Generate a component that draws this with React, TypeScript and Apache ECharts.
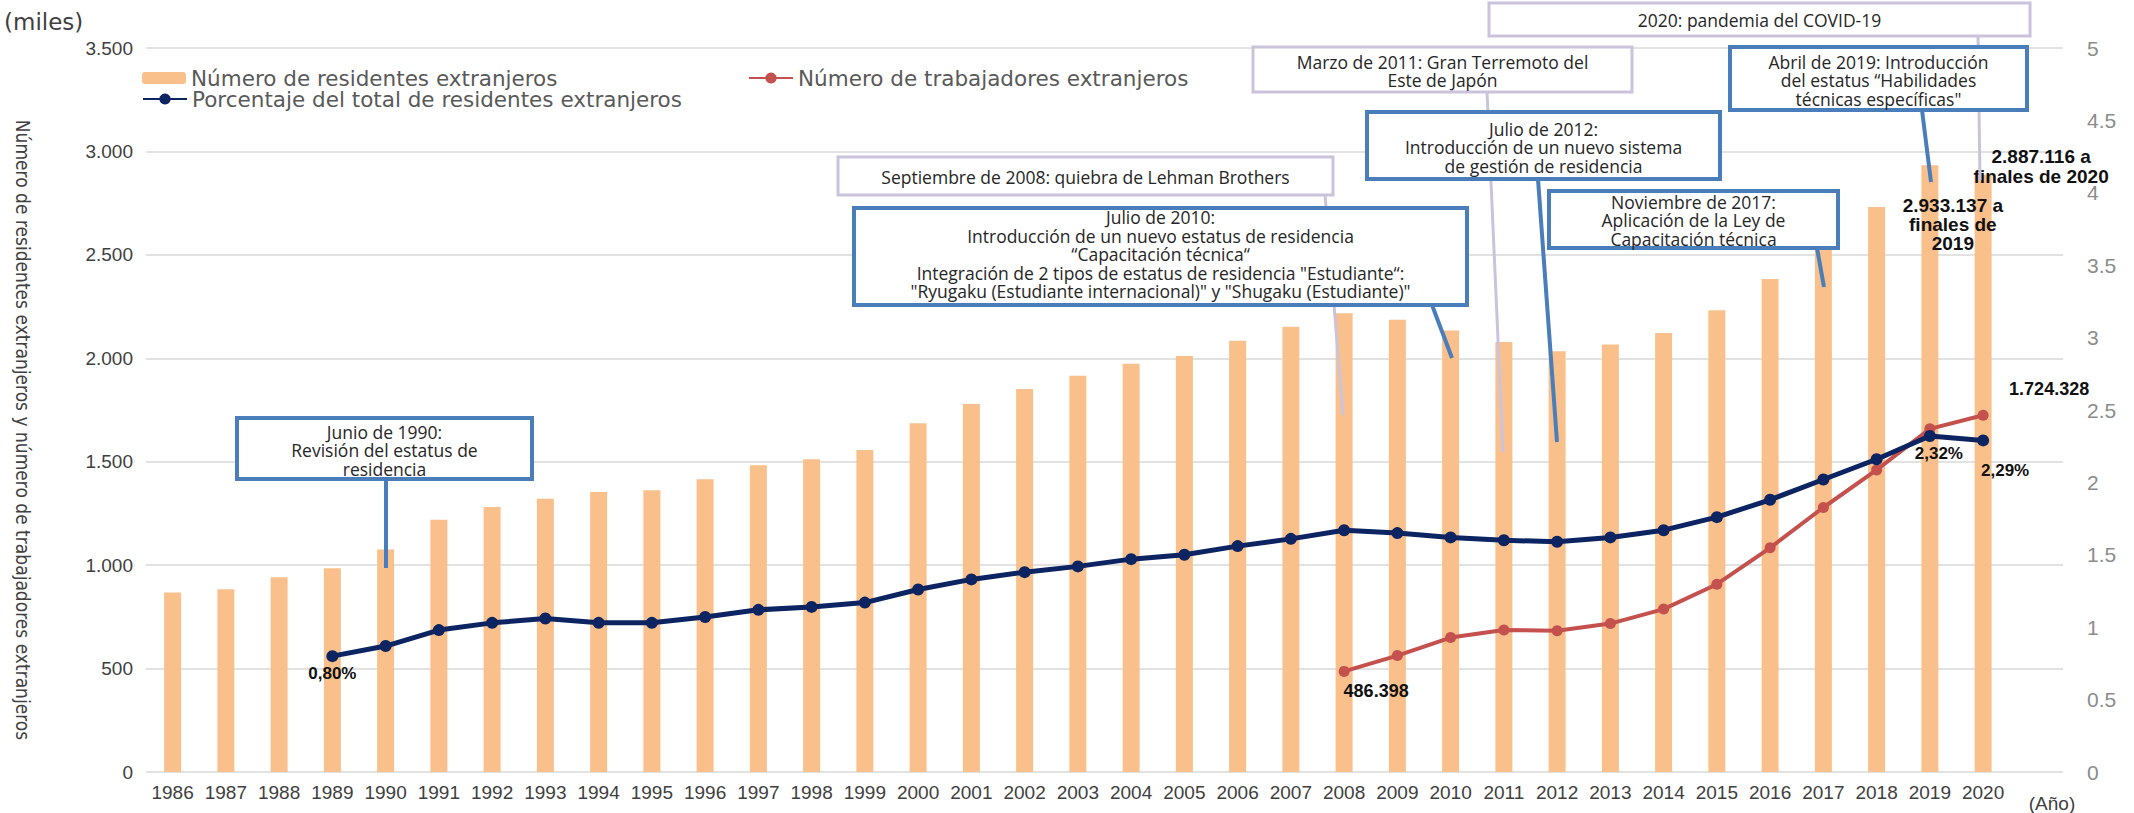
import React, { useEffect, useRef } from "react";
import * as echarts from "echarts";

// ---------------- DATA ----------------
const years = [
  1986, 1987, 1988, 1989, 1990, 1991, 1992, 1993, 1994, 1995, 1996, 1997,
  1998, 1999, 2000, 2001, 2002, 2003, 2004, 2005, 2006, 2007, 2008, 2009,
  2010, 2011, 2012, 2013, 2014, 2015, 2016, 2017, 2018, 2019, 2020,
];
// Número de residentes extranjeros (personas)
const residents = [
  867237, 884025, 941005, 984455, 1075317, 1218891, 1281644, 1320748, 1354011,
  1362371, 1415136, 1482707, 1512116, 1556113, 1686444, 1778462, 1851758,
  1915030, 1973747, 2011555, 2084919, 2152973, 2217426, 2186121, 2134151,
  2078508, 2033656, 2066445, 2121831, 2232189, 2382822, 2561848, 2731093,
  2933137, 2887116,
];
// Porcentaje del total (%), 1989-2020
const percentYears = years.slice(3);
const percent = [
  0.8, 0.87, 0.98, 1.03, 1.06, 1.03, 1.03, 1.07, 1.12, 1.14, 1.17, 1.26, 1.33,
  1.38, 1.42, 1.47, 1.5, 1.56, 1.61, 1.67, 1.65, 1.62, 1.6, 1.59, 1.62, 1.67,
  1.76, 1.88, 2.02, 2.16, 2.32, 2.29,
];
// Número de trabajadores extranjeros (personas), 2008-2020
const workerYears = years.slice(22);
const workers = [
  486398, 562818, 649982, 686246, 682450, 717504, 787627, 907896, 1083769,
  1278670, 1460463, 1658804, 1724328,
];

const NAME_RES = "Número de residentes extranjeros";
const NAME_WORK = "Número de trabajadores extranjeros";
const NAME_PCT = "Porcentaje del total de residentes extranjeros";
const Y_TITLE =
  "Número de residentes extranjeros y número de trabajadores extranjeros";

// Annotation callouts (layout only)
const BLUE = "#4A7EBB";
const LAV = "#CBC2DC";
const annotations = [
  { lines: ["Junio de 1990:", "Revisión del estatus de", "residencia"], c: BLUE, box: [237, 418, 295, 61], cy: 450, link: [386, 479, 386, 568] },
  { lines: ["Septiembre de 2008: quiebra de Lehman Brothers"], c: LAV, box: [838, 157, 495, 38], cy: 177, link: [1325, 195, 1343, 415] },
  { lines: ["Julio de 2010:", "Introducción de un nuevo estatus de residencia", "“Capacitación técnica“", "Integración de 2 tipos de estatus de residencia \"Estudiante“:", "\"Ryugaku (Estudiante internacional)\" y \"Shugaku (Estudiante)\""], c: BLUE, box: [854, 208, 613, 97], cy: 254, link: [1432, 305, 1452, 358] },
  { lines: ["Marzo de 2011: Gran Terremoto del", "Este de Japón"], c: LAV, box: [1253, 47, 379, 45], cy: 71, link: [1487, 92, 1503, 452] },
  { lines: ["Julio de 2012:", "Introducción de un nuevo sistema", "de gestión de residencia"], c: BLUE, box: [1367, 112, 353, 67], cy: 147, link: [1538, 179, 1557, 442] },
  { lines: ["Noviembre de 2017:", "Aplicación de la Ley de", "Capacitación técnica"], c: BLUE, box: [1549, 191, 289, 57], cy: 220, link: [1817, 248, 1824, 287] },
  { lines: ["Abril de 2019: Introducción", "del estatus “Habilidades", "técnicas específicas\""], c: BLUE, box: [1730, 47, 297, 63], cy: 80, link: [1922, 110, 1931, 182] },
  { lines: ["2020: pandemia del COVID-19"], c: LAV, box: [1489, 3, 541, 33], cy: 20, link: [1978, 36, 1980, 180] },
];

// ---------------- HELPERS ----------------
function fmtThousands(n: number): string {
  return String(Math.round(n)).replace(/\B(?=(\d{3})+(?!\d))/g, ".");
}
function fmtPct(p: number): string {
  return p.toFixed(2).replace(".", ",") + "%";
}

const BAR_COLOR = "#F9C08B";
const NAVY = "#0C2461";
const RED = "#C4514E";
const LABEL_FONT = "Liberation Sans";
const boldLabel = {
  show: true,
  fontFamily: LABEL_FONT,
  fontWeight: "bold" as const,
  color: "#111",
};

export default function App() {
  const ref = useRef<HTMLDivElement>(null);

  useEffect(() => {
    document.body.style.margin = "0";
    if (!ref.current) return;
    const chart = echarts.init(ref.current, undefined, { renderer: "svg" });

    const barData = years.map((y, i) => {
      const item: any = { value: [y, residents[i] / 1000] };
      if (y === 2019) {
        item.label = {
          ...boldLabel,
          position: "insideTop",
          offset: [23, 26],
          fontSize: 19,
          lineHeight: 19,
          align: "center",
          formatter: `${fmtThousands(residents[i])} a\nfinales de\n${y}`,
        };
      }
      if (y === 2020) {
        item.label = {
          ...boldLabel,
          position: "top",
          offset: [58, 17],
          fontSize: 19,
          lineHeight: 20,
          align: "center",
          formatter: `${fmtThousands(residents[i])} a\nfinales de ${y}`,
        };
      }
      return item;
    });

    const pctOffsets: Record<number, number[]> = {
      1989: [0, -2],
      2019: [9, -2],
      2020: [22, 11],
    };
    const pctData = percentYears.map((y, i) => {
      const item: any = { value: [y, percent[i]] };
      if (pctOffsets[y]) {
        item.label = {
          ...boldLabel,
          position: "bottom",
          offset: pctOffsets[y],
          fontSize: 17,
          formatter: fmtPct(percent[i]),
        };
      }
      return item;
    });

    const workData = workerYears.map((y, i) => {
      const item: any = { value: [y, workers[i] / 1000] };
      if (i === 0) {
        item.label = {
          ...boldLabel,
          position: "bottom",
          offset: [32, 0],
          fontSize: 18,
          formatter: fmtThousands(workers[i]),
        };
      }
      if (i === workers.length - 1) {
        item.label = {
          ...boldLabel,
          position: "top",
          offset: [66, -7],
          fontSize: 18,
          formatter: fmtThousands(workers[i]),
        };
      }
      return item;
    });

    const graphics: any[] = [];
    annotations.forEach((a) => {
      const [x, y, w, h] = a.box;
      const [x1, y1, x2, y2] = a.link;
      const lw = a.c === BLUE ? 4 : 3;
      graphics.push({
        type: "line",
        z: 100,
        shape: { x1, y1, x2, y2 },
        style: { stroke: a.c, lineWidth: lw },
        silent: true,
      });
      graphics.push({
        type: "rect",
        z: 101,
        shape: { x, y, width: w, height: h },
        style: { fill: "#ffffff", stroke: a.c, lineWidth: lw },
        silent: true,
      });
      graphics.push({
        type: "text",
        z: 102,
        x: x + w / 2,
        y: a.cy,
        style: {
          text: a.lines.join("\n"),
          fontSize: 17.5,
          fontFamily: "Open Sans",
          fill: "#262626",
          align: "center",
          textAlign: "center",
          verticalAlign: "middle",
          textVerticalAlign: "middle",
          lineHeight: 18.5,
        },
        silent: true,
      });
    });
    graphics.push({
      type: "text",
      x: 4,
      y: 22,
      style: {
        text: "(miles)",
        fontSize: 23,
        fontFamily: "DejaVu Sans",
        fill: "#404040",
        verticalAlign: "middle",
        textVerticalAlign: "middle",
      },
    });
    graphics.push({
      type: "text",
      x: 23,
      y: 430,
      rotation: -Math.PI / 2,
      style: {
        text: Y_TITLE,
        fontSize: 19,
        fontFamily: "'Liberation Sans Narrow', 'DejaVu Sans Condensed', sans-serif",
        fill: "#404040",
        align: "center",
        textAlign: "center",
        verticalAlign: "middle",
        textVerticalAlign: "middle",
      },
    });
    graphics.push({
      type: "text",
      x: 2052,
      y: 803,
      style: {
        text: "(Año)",
        fontSize: 19,
        fontFamily: "Liberation Sans",
        fill: "#404040",
        align: "center",
        textAlign: "center",
        verticalAlign: "middle",
        textVerticalAlign: "middle",
      },
    });

    const legendText = {
      fontFamily: "DejaVu Sans",
      fontSize: 21.5,
      color: "#595959",
    };

    chart.setOption({
      animation: false,
      backgroundColor: "#ffffff",
      grid: { left: 146, right: 71, top: 48, bottom: 41 },
      legend: [
        { data: [NAME_RES], left: 142, top: 67, padding: 0, itemWidth: 44, itemHeight: 12, selectedMode: false, textStyle: legendText },
        { data: [NAME_WORK], left: 748, top: 67, padding: 0, itemWidth: 44, itemHeight: 14, selectedMode: false, textStyle: legendText },
        { data: [NAME_PCT], left: 142, top: 88, padding: 0, itemWidth: 44, itemHeight: 14, selectedMode: false, textStyle: legendText },
      ],
      xAxis: {
        type: "value",
        min: 1985.5,
        max: 2021.5,
        axisLine: { show: false },
        axisTick: { show: false },
        splitLine: { show: false },
        axisLabel: {
          customValues: years,
          formatter: (v: number) => String(v),
          fontFamily: "Liberation Sans",
          fontSize: 19,
          color: "#404040",
          margin: 11,
        },
      },
      yAxis: [
        {
          type: "value",
          position: "left",
          min: 0,
          max: 3500,
          interval: 500,
          axisLine: { show: false },
          axisTick: { show: false },
          axisLabel: {
            formatter: (v: number) => fmtThousands(v),
            fontFamily: "Liberation Sans",
            fontSize: 19,
            color: "#404040",
            margin: 13,
          },
          splitLine: { lineStyle: { color: "#E2E2E2", width: 2 } },
        },
        {
          type: "value",
          position: "right",
          min: 0,
          max: 5,
          interval: 0.5,
          axisLine: { show: false },
          axisTick: { show: false },
          splitLine: { show: false },
          axisLabel: {
            fontFamily: "Liberation Sans",
            fontSize: 21,
            color: "#8C8C8C",
            margin: 24,
          },
        },
      ],
      series: [
        {
          name: NAME_RES,
          type: "bar",
          yAxisIndex: 0,
          barWidth: 17,
          itemStyle: { color: BAR_COLOR },
          data: barData,
          z: 2,
        },
        {
          name: NAME_WORK,
          type: "line",
          yAxisIndex: 0,
          symbol: "circle",
          symbolSize: 11,
          lineStyle: { color: RED, width: 4 },
          itemStyle: { color: RED },
          data: workData,
          z: 3,
        },
        {
          name: NAME_PCT,
          type: "line",
          yAxisIndex: 1,
          symbol: "circle",
          symbolSize: 12,
          lineStyle: { color: NAVY, width: 5 },
          itemStyle: { color: NAVY },
          data: pctData,
          z: 4,
        },
      ],
      graphic: { elements: graphics },
    });

    return () => chart.dispose();
  }, []);

  return <div ref={ref} style={{ width: 2134, height: 813 }} />;
}
